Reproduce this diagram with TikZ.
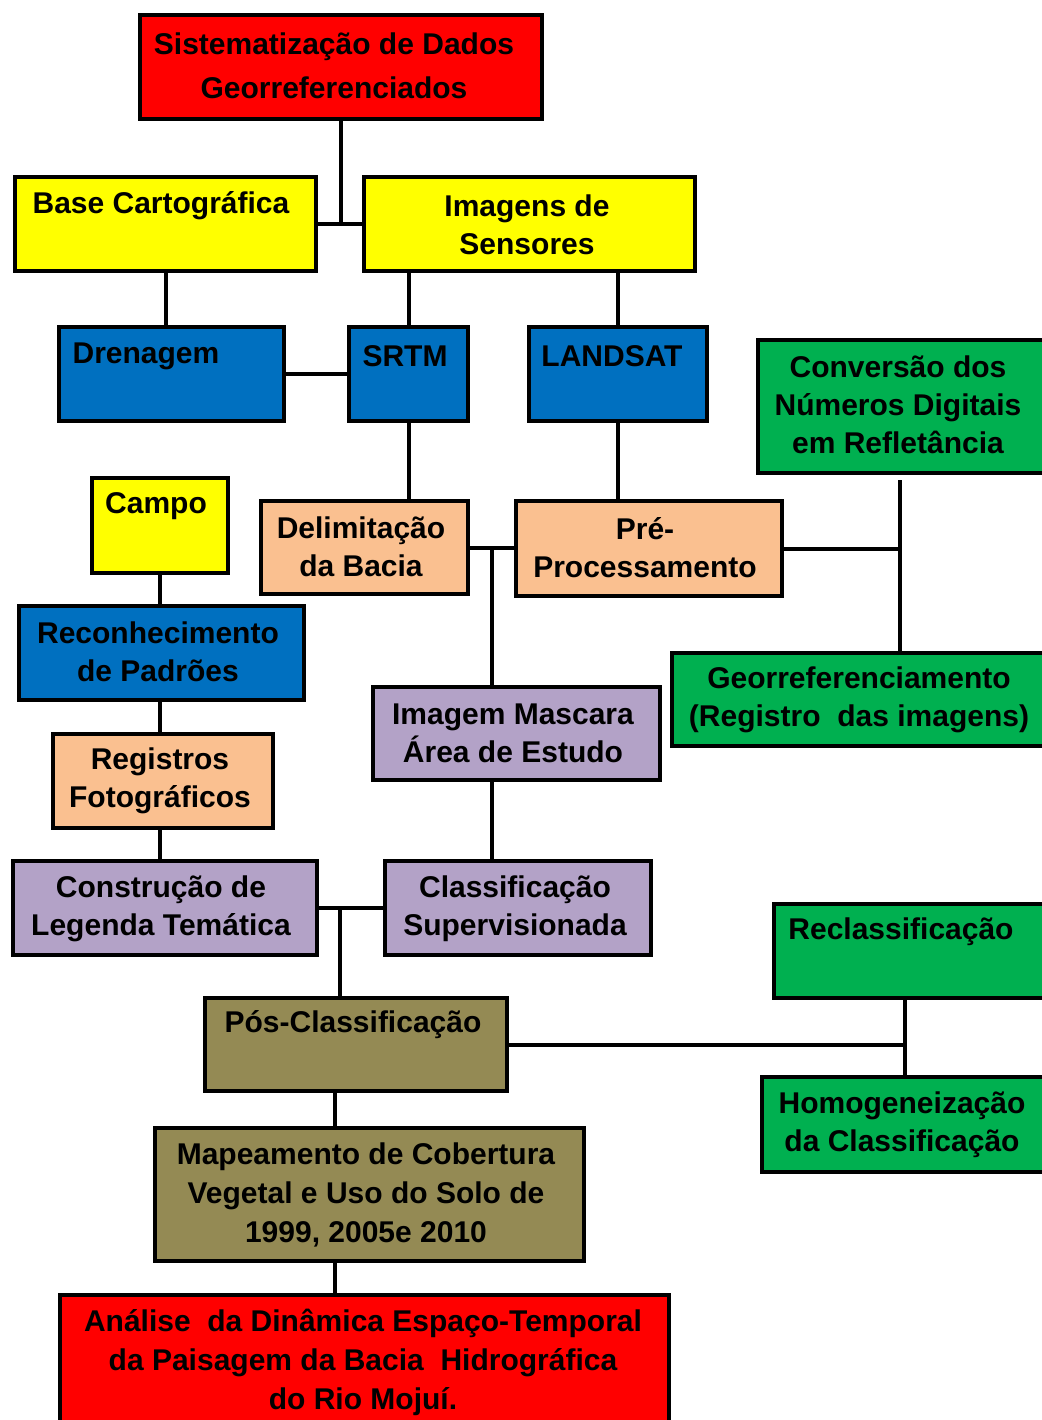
\documentclass[tikz,border=0pt]{standalone}
\usepackage{fontspec}
\setmainfont{Liberation Sans}
\usetikzlibrary{calc}
\definecolor{cred}{HTML}{FF0000}
\definecolor{cyel}{HTML}{FFFF00}
\definecolor{cblue}{HTML}{0070C0}
\definecolor{cgreen}{HTML}{00B050}
\definecolor{cpeach}{HTML}{FAC090}
\definecolor{cpurp}{HTML}{B3A2C7}
\definecolor{colive}{HTML}{948A54}
\begin{document}
\begin{tikzpicture}[x=1pt,y=-1pt,
  blk/.style={draw,line width=4pt,anchor=north west,inner sep=0},
  txt/.style={font=\fontsize{30}{38}\selectfont\bfseries,align=center,inner sep=0},
  con/.style={line width=4pt}]
\useasboundingbox (0,0) rectangle (1041,1420);
% boxes: name/colour/left/top/width/height
\foreach \n/\c/\x/\y/\w/\h in {sist/cred/138/13/402/104, base/cyel/13/175/301/94,
    imag/cyel/362/175/331/94, dren/cblue/57/325/225/94, srtm/cblue/347/325/119/94,
    land/cblue/527/325/178/94, conv/cgreen/756/338/292/133, campo/cyel/90/476/136/95,
    delim/cpeach/259/499/207/93, pre/cpeach/514/499/266/95, recon/cblue/17/604/285/94,
    reg/cpeach/51/732/220/94, mask/cpurp/371/685/287/93, geo/cgreen/670/651/378/93,
    cons/cpurp/11/859/304/94, clas/cpurp/383/859/266/94, recl/cgreen/772/902/276/94,
    pos/colive/203/996/302/93, homog/cgreen/760/1075/288/95, mapa/colive/153/1126/429/133,
    anal/cred/58/1293/609/137}
  \node[blk,fill=\c,minimum width=\w pt,minimum height=\h pt] (\n) at (\x,\y) {};
% connectors
\draw[con] (base.east) -- (imag.west);
\draw[con] (sist.south) -- (sist.south |- base.east);
\draw[con] (base.south) -- (base.south |- dren.north);
\draw[con] (srtm.north) -- (srtm.north |- imag.south);
\draw[con] (land.north) -- (land.north |- imag.south);
\draw[con] (dren.east) -- (srtm.west);
\draw[con] (srtm.south) -- (srtm.south |- delim.north);
\draw[con] (land.south) -- (land.south |- pre.north);
\draw[con] (delim.east) -- (delim.east -| pre.west);
\coordinate (jA) at ($(delim.east)!.5!(pre.west)$);
\draw[con] (jA) -- (jA |- mask.north);
\draw[con] (jA |- mask.south) -- (jA |- clas.north);
\coordinate (jB) at (900,480);
\draw[con] (jB) -- (jB |- geo.north);
\draw[con] (pre.east) -- (pre.east -| jB);
\draw[con] (campo.south) -- (campo.south |- recon.north);
\draw[con] (campo.south |- recon.south) -- (campo.south |- reg.north);
\draw[con] (campo.south |- reg.south) -- (campo.south |- cons.north);
\draw[con] (cons.east) -- (clas.west);
\coordinate (jC) at (340,0);
\draw[con] (jC |- cons.east) -- (jC |- pos.north);
\coordinate (jD) at (335,0);
\draw[con] (jD |- pos.south) -- (jD |- mapa.north);
\draw[con] (jD |- mapa.south) -- (jD |- anal.north);
\coordinate (jE) at (905,0);
\draw[con] (jE |- recl.south) -- (jE |- homog.north);
\draw[con] (pos.east) -- (pos.east -| jE);
% labels
\node[txt,font=\fontsize{30}{44}\selectfont\bfseries] (sist-t) at (334,66) {Sistematização de Dados\\Georreferenciados};
\node[txt] (base-t) at (161,206) {Base Cartográfica};
\node[txt] (imag-t) at (527,225) {Imagens de\\Sensores};
\node[txt] (dren-t) at (146,356) {Drenagem};
\node[txt] (srtm-t) at (405,356) {SRTM};
\node[txt] (land-t) at (612,356) {LANDSAT};
\node[txt] (conv-t) at (898,405) {Conversão dos\\Números Digitais\\em Refletância};
\node[txt] (campo-t) at (156,506) {Campo};
\node[txt] (delim-t) at (361,547) {Delimitação\\da Bacia};
\node[txt] (pre-t) at (645,548) {Pré-\\Processamento};
\node[txt] (recon-t) at (158,652) {Reconhecimento\\de Padrões};
\node[txt] (reg-t) at (160,781) {Registros\\Fotográficos};
\node[txt] (mask-t) at (513,733) {Imagem Mascara\\Área de Estudo};
\node[txt] (geo-t) at (859,700) {Georreferenciamento\\(Registro~ das imagens)};
\node[txt] (cons-t) at (161,909) {Construção de\\Legenda Temática};
\node[txt] (clas-t) at (515,909) {Classificação\\Supervisionada};
\node[txt] (recl-t) at (901,932) {Reclassificação};
\node[txt] (pos-t) at (353,1025) {Pós-Classificação};
\node[txt] (homog-t) at (902,1125) {Homogeneização\\da Classificação};
\node[txt,font=\fontsize{30}{39}\selectfont\bfseries] (mapa-t) at (366,1195) {Mapeamento de Cobertura\\Vegetal e Uso do Solo de\\1999, 2005e 2010};
\node[txt,font=\fontsize{30}{39}\selectfont\bfseries] (anal-t) at (363,1362) {Análise~ da Dinâmica Espaço-Temporal\\da Paisagem da Bacia~ Hidrográfica\\do Rio Mojuí.};
\end{tikzpicture}
\end{document}
